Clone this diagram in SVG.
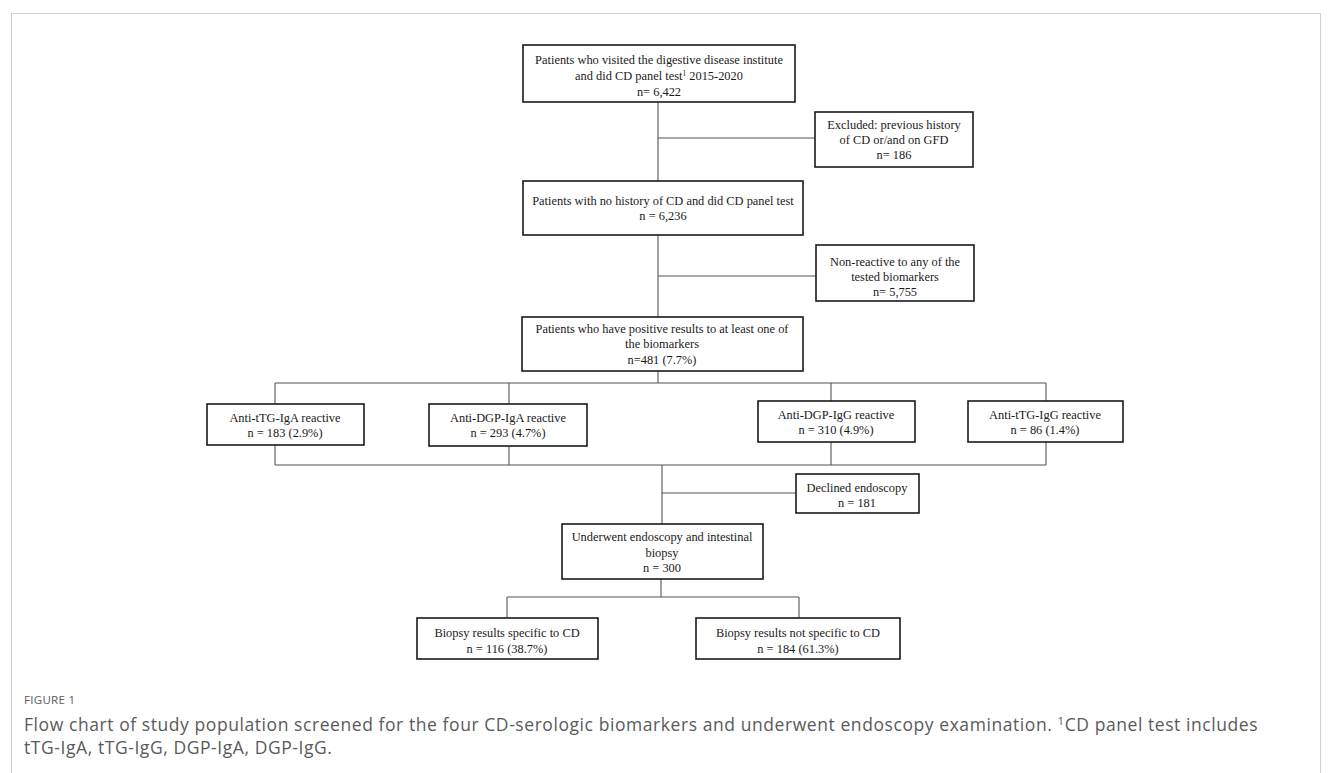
<svg xmlns="http://www.w3.org/2000/svg" width="1333" height="773" viewBox="0 0 1333 773">
<style>
.box{fill:#fff;stroke:#1a1a1a;stroke-width:1.6}
.t{font-family:"Liberation Serif","Times New Roman",serif;font-size:12.4px;fill:#1a1a1a;text-anchor:middle}
.c{fill:none;stroke:#555;stroke-width:1.1}
.cap{font-family:"Open Sans",sans-serif;fill:#5a5a5a}
</style>
<rect x="0" y="0" width="1333" height="773" fill="#fff"/>
<rect x="11.5" y="13.5" width="1309" height="800" fill="none" stroke="#cfcfcf" stroke-width="1"/>
<g id="connectors">
<path class="c" d="M658 102V181M658 138H815M658 235V317M658 276H816M658 371V383M275 383H1046M275 383V404M509 383V404M831 383V401M1046 383V401M275 445V465M509 446V465M831 442V465M1046 442V465M275 465H1046M662 465V524M662 493H796M661 579V597M507 597H799M507 597V618M799 597V618"/>
</g>
<g id="n1"><rect class="box" x="523" y="45" width="272" height="57"/>
<text class="t" x="659" y="64">Patients who visited the digestive disease institute</text>
<text class="t" x="659" y="80">and did CD panel test<tspan font-size="7.5" dy="-4">1</tspan><tspan dy="4"> 2015-2020</tspan></text>
<text class="t" x="659" y="96">n= 6,422</text></g>
<g id="n2"><rect class="box" x="815" y="112" width="158" height="55"/>
<text class="t" x="894" y="129">Excluded: previous history</text>
<text class="t" x="894" y="144">of CD or/and on GFD</text>
<text class="t" x="894" y="159">n= 186</text></g>
<g id="n3"><rect class="box" x="523" y="181" width="280" height="54"/>
<text class="t" x="663" y="205">Patients with no history of CD and did CD panel test</text>
<text class="t" x="663" y="220">n = 6,236</text></g>
<g id="n4"><rect class="box" x="816" y="245" width="158" height="56"/>
<text class="t" x="895" y="266">Non-reactive to any of the</text>
<text class="t" x="895" y="281">tested biomarkers</text>
<text class="t" x="895" y="296">n= 5,755</text></g>
<g id="n5"><rect class="box" x="522" y="317" width="281" height="54"/>
<text class="t" x="662" y="333">Patients who have positive results to at least one of</text>
<text class="t" x="662" y="348">the biomarkers</text>
<text class="t" x="662" y="364">n=481 (7.7%)</text></g>
<g id="n6"><rect class="box" x="207" y="404" width="157" height="41"/>
<text class="t" x="285" y="422">Anti-tTG-IgA reactive</text>
<text class="t" x="285" y="437">n = 183 (2.9%)</text></g>
<g id="n7"><rect class="box" x="429" y="404" width="158" height="42"/>
<text class="t" x="508" y="422">Anti-DGP-IgA reactive</text>
<text class="t" x="508" y="437">n = 293 (4.7%)</text></g>
<g id="n8"><rect class="box" x="758" y="401" width="157" height="41"/>
<text class="t" x="836" y="419">Anti-DGP-IgG reactive</text>
<text class="t" x="836" y="434">n = 310 (4.9%)</text></g>
<g id="n9"><rect class="box" x="968" y="401" width="155" height="41"/>
<text class="t" x="1045" y="419">Anti-tTG-IgG reactive</text>
<text class="t" x="1045" y="434">n = 86 (1.4%)</text></g>
<g id="n10"><rect class="box" x="796" y="474" width="123" height="39"/>
<text class="t" x="857" y="492">Declined endoscopy</text>
<text class="t" x="857" y="507">n = 181</text></g>
<g id="n11"><rect class="box" x="562" y="524" width="201" height="55"/>
<text class="t" x="662" y="541">Underwent endoscopy and intestinal</text>
<text class="t" x="662" y="557">biopsy</text>
<text class="t" x="662" y="572">n = 300</text></g>
<g id="n12"><rect class="box" x="417" y="618" width="181" height="41"/>
<text class="t" x="507" y="637">Biopsy results specific to CD</text>
<text class="t" x="507" y="653">n = 116 (38.7%)</text></g>
<g id="n13"><rect class="box" x="696" y="618" width="204" height="41"/>
<text class="t" x="798" y="637">Biopsy results not specific to CD</text>
<text class="t" x="798" y="653">n = 184 (61.3%)</text></g>
<text class="cap" x="24" y="704" font-size="11.5" letter-spacing="0.3">FIGURE 1</text>
<text class="cap" x="24" y="731" font-size="17.5" letter-spacing="0.57">Flow chart of study population screened for the four CD-serologic biomarkers and underwent endoscopy examination. <tspan font-size="11.5" dy="-6">1</tspan><tspan dy="6">CD panel test includes</tspan></text>
<text class="cap" x="24" y="754" font-size="17.5" letter-spacing="0.57">tTG-IgA, tTG-IgG, DGP-IgA, DGP-IgG.</text>
</svg>
